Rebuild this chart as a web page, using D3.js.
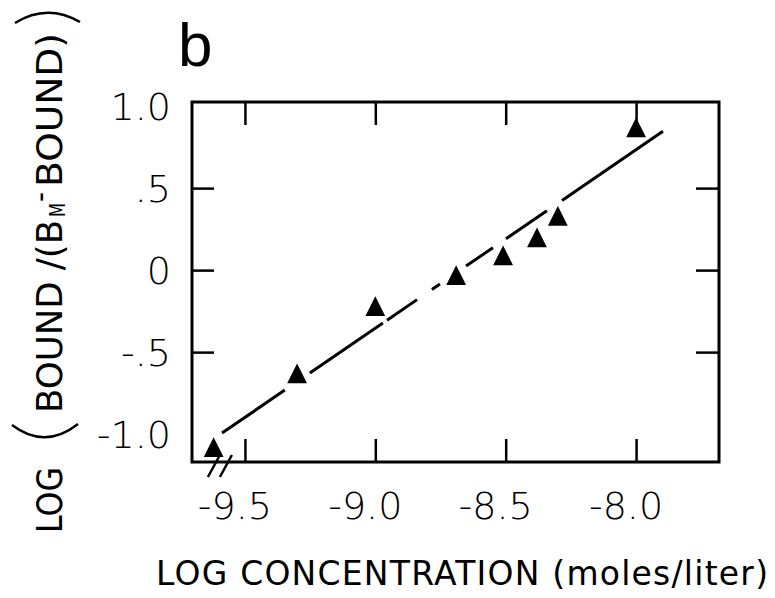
<!DOCTYPE html>
<html>
<head>
<meta charset="utf-8">
<script src="https://cdn.jsdelivr.net/npm/d3@7"></script>
<style>
  html, body { margin: 0; padding: 0; background: #fff; }
  svg { display: block; }
</style>
</head>
<body>
<svg id="chart" width="775" height="598"></svg>
<script>
// data
var logConc = [-9.62, -9.30, -9.00, -8.69, -8.51, -8.38, -8.30, -8.00];
var logRatio = [-1.10, -0.65, -0.24, -0.05, 0.07, 0.18, 0.31, 0.85];

// fitted line y = slope * x + intercept, drawn in broken pieces
var fitSlope = 1.088;
var fitIntercept = 9.438;
var fitPieces = [[-9.588, -9.347], [-9.251, -8.971], [-8.955, -8.840], [-8.783, -8.752],
                 [-8.652, -8.549], [-8.499, -8.342], [-8.284, -7.897]];

var xTicks = [-9.5, -9.0, -8.5, -8.0];
var xTickLabels = ["-9.5", "-9.0", "-8.5", "-8.0"];
var yTicks = [0.5, 0, -0.5];
var yLabelValues = [1.0, 0.5, 0, -0.5, -1.0];
var yTickLabels = ["1.0", ".5", "0", "-.5", "-1.0"];
var xBreaks = [-9.619, -9.573];

var svg = d3.select("#chart");
svg.append("rect").attr("width", 775).attr("height", 598).attr("fill", "#fff");

var x = d3.scaleLinear().domain([-9.703, -7.682]).range([192, 719]);
var y = d3.scaleLinear().domain([-1.17, 1.025]).range([462, 102]);

var tickFont = "'DejaVu Sans', sans-serif";

// inward ticks on all four sides
function styleAxis(g) {
    g.select(".domain").remove();
    g.selectAll(".tick line").attr("stroke", "#000").attr("stroke-width", 2.5);
    g.selectAll(".tick text").remove();
}
svg.append("g").attr("transform", "translate(0,462)")
    .call(d3.axisBottom(x).tickValues(xTicks).tickSizeInner(-23).tickSizeOuter(0))
    .call(styleAxis);
svg.append("g").attr("transform", "translate(0,102)")
    .call(d3.axisTop(x).tickValues(xTicks).tickSizeInner(-23).tickSizeOuter(0))
    .call(styleAxis);
svg.append("g").attr("transform", "translate(192,0)")
    .call(d3.axisLeft(y).tickValues(yTicks).tickSizeInner(-22).tickSizeOuter(0))
    .call(styleAxis);
svg.append("g").attr("transform", "translate(719,0)")
    .call(d3.axisRight(y).tickValues(yTicks).tickSizeInner(-23).tickSizeOuter(0))
    .call(styleAxis);

// frame
svg.append("rect")
    .attr("x", x.range()[0]).attr("y", y.range()[1])
    .attr("width", x.range()[1] - x.range()[0])
    .attr("height", y.range()[0] - y.range()[1])
    .attr("fill", "none").attr("stroke", "#000").attr("stroke-width", 3);

// axis break marks
svg.selectAll(".brk").data(xBreaks).enter().append("line")
    .attr("class", "brk")
    .attr("x1", d => x(d) - 6).attr("y1", 477)
    .attr("x2", d => x(d) + 6).attr("y2", 455)
    .attr("stroke", "#000").attr("stroke-width", 2.5);

// tick labels
svg.selectAll(".xlab").data(xTicks).enter().append("text")
    .attr("class", "xlab")
    .attr("x", d => x(d) - 10).attr("y", 519)
    .attr("text-anchor", "middle")
    .attr("font-family", tickFont).attr("font-weight", 200)
    .attr("font-size", 38)
    .text((d, i) => xTickLabels[i]);

svg.selectAll(".ylab").data(yLabelValues).enter().append("text")
    .attr("class", "ylab")
    .attr("x", 171).attr("y", d => y(d))
    .attr("dy", "0.36em")
    .attr("text-anchor", "end")
    .attr("font-family", tickFont).attr("font-weight", 200)
    .attr("font-size", 38)
    .text((d, i) => yTickLabels[i]);

// fitted line
var line = d3.line().x(d => x(d)).y(d => y(fitSlope * d + fitIntercept));
svg.selectAll(".fit").data(fitPieces).enter().append("path")
    .attr("class", "fit")
    .attr("d", d => line(d))
    .attr("fill", "none").attr("stroke", "#000").attr("stroke-width", 3);

// points
var tri = d3.symbol().type(d3.symbolTriangle).size(170);
svg.selectAll(".pt").data(logConc).enter().append("path")
    .attr("class", "pt")
    .attr("d", tri)
    .attr("transform", (d, i) => `translate(${x(d)},${y(logRatio[i])}) scale(1,1.15)`)
    .attr("fill", "#000");

// panel letter
svg.append("text")
    .attr("x", 178).attr("y", 66)
    .attr("font-family", "'Liberation Sans', sans-serif")
    .attr("font-size", 62)
    .text("b");

// x title
svg.append("text")
    .attr("x", 156).attr("y", 585)
    .attr("font-family", "'DejaVu Sans', sans-serif")
    .attr("font-size", 33)
    .attr("textLength", 612).attr("lengthAdjust", "spacing")
    .text("LOG CONCENTRATION (moles/liter)");

// y title, rotated
var yt = svg.append("g").attr("transform", "translate(62,0) rotate(-90)");
var titleFont = "'DejaVu Sans', sans-serif";
yt.append("text").attr("x", -533).attr("y", 0)
    .attr("font-family", titleFont).attr("font-size", 36)
    .attr("textLength", 66).attr("lengthAdjust", "spacingAndGlyphs")
    .text("LOG");
yt.append("text").attr("x", -413).attr("y", 0)
    .attr("font-family", titleFont).attr("font-size", 36)
    .attr("textLength", 193).attr("lengthAdjust", "spacingAndGlyphs")
    .text("BOUND /(B");
yt.append("text").attr("x", -217).attr("y", 3)
    .attr("font-family", titleFont).attr("font-size", 22)
    .attr("textLength", 14).attr("lengthAdjust", "spacingAndGlyphs")
    .text("M");
yt.append("text").attr("x", -202).attr("y", -12)
    .attr("font-family", titleFont).attr("font-size", 30)
    .attr("textLength", 10).attr("lengthAdjust", "spacingAndGlyphs")
    .text("-");
yt.append("text").attr("x", -187).attr("y", 0)
    .attr("font-family", titleFont).attr("font-size", 36)
    .attr("textLength", 154).attr("lengthAdjust", "spacingAndGlyphs")
    .text("BOUND)");

// big brackets round the ratio
svg.append("path")
    .attr("d", "M12,425 Q45,450 78,424")
    .attr("fill", "none").attr("stroke", "#000").attr("stroke-width", 2.5);
svg.append("path")
    .attr("d", "M15,23 Q47,3 80,22")
    .attr("fill", "none").attr("stroke", "#000").attr("stroke-width", 2.5);
</script>
</body>
</html>
